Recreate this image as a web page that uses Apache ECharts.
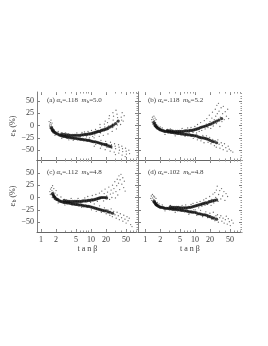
<!DOCTYPE html>
<html><head><meta charset="utf-8">
<style>html,body{margin:0;padding:0;background:#fff}#c{width:268px;height:346px}</style>
<script src="https://cdn.jsdelivr.net/npm/echarts@6/dist/echarts.min.js"></script>
</head><body><div id="c"></div>
<script>
const xTickLabels = [1, 2, 5, 10, 20, 50];
const xMinorTicks = [1,2,3,4,5,6,7,8,9,10,20,30,40,50,60,70,80];
const yTickLabels = [-50, -25, 0, 25, 50];
const yMinorTicks = [-70,-65,-60,-55,-45,-40,-35,-30,-20,-15,-10,-5,5,10,15,20,30,35,40,45,55,60,65,70,75];
const panelTags = ['(a)', '(b)', '(c)', '(d)'];
const alphaValues = ['.118', '.118', '.112', '.102'];
const massValues = ['5.0', '5.2', '4.8', '4.8'];

const aBand = [[1.6,-4],[1.65,-7],[1.7,-10],[1.75,-11],[1.8,-13],[1.9,-14],[2,-16],[2.15,-17],[2.3,-19],[2.45,-20],[2.6,-21],[2.8,-22],[3,-22],[3.2,-23],[3.4,-24],[3.7,-24],[4,-25],[4.3,-25],[4.6,-26],[5,-26],[5.4,-27],[5.8,-27],[6.2,-28],[6.7,-28],[7.2,-29],[7.8,-29],[8.4,-30],[9,-30],[9.7,-31],[10.5,-32],[11.3,-33],[12.2,-33],[13.2,-34],[14.2,-35],[15.3,-36],[16.5,-37],[18,-38],[19.5,-39],[21,-40],[23,-42],[25,-43],
 [2.6,-17],[2.9,-18],[3.2,-19],[3.5,-19],[3.8,-20],[4.2,-20],[4.6,-20],[5,-20],[5.5,-20],[6,-20],[6.5,-19],[7,-19],[7.6,-18],[8.2,-18],[8.9,-17],[9.6,-17],[10.4,-16],[11.2,-15],[12.1,-14],[13,-13],[14,-12],[15,-12],[16.2,-10],[17.5,-9],[19,-8],[20.5,-7],[22,-5],[24,-3],[26,-1],[28,1],[31,4],[35,9]];
const aCloud = [[1.45,8],[1.48,-1],[1.5,3],[1.52,-6],[1.55,6],[1.58,11],[1.6,1],[1.63,-9],[1.66,5],[1.7,-3],[1.75,-7],[1.85,-9],[1.9,-20],[2.2,-12],[2.6,-26],[3.1,-15],[3.6,-29],[4.4,-30],[5.2,-15],[6.1,-23],[6.6,-14],[7.4,-13],[8.1,-23],[8.7,-12],[9.3,-25],[10.2,-10],[10.8,-22],[11.5,-25],[11.9,-19],[12.3,-8],[12.8,-13],[14.6,-22],[15.2,-4],[15.5,-15],[15.9,-9],[15.1,2],[17.6,-20],[18.3,-11],[18.9,-3],[18.5,3],[19.2,9],[21.8,-17],[22.1,-8],[22.6,-1],[21.4,6],[22.9,14],[23.3,20],[26.5,-12],[27.2,-4],[26.8,3],[27.7,11],[28.2,19],[27.4,26],[32.2,-7],[33.5,1],[32.8,8],[34,16],[33.1,23],[31.6,31],[39,2],[41,11],[40.2,17],[42,26],[44,9],[46,20],
 [12.4,-38],[11.6,-42],[15.8,-30],[16.3,-41],[15.4,-46],[19.6,-32],[20.3,-37],[20.8,-44],[19.2,-49],[24.5,-34],[25.6,-39],[26,-46],[24.1,-52],[29.5,-37],[30.4,-42],[31,-47],[29.1,-54],[30.8,-59],[35.5,-39],[36.4,-44],[37,-50],[35.9,-56],[41.3,-42],[42.6,-47],[43,-53],[41.8,-60],[49,-46],[50.5,-52],[51,-58],[48.2,-63],[57,-50],[59,-57]];

const bBand = [[1.5,6],[1.55,3],[1.6,0],[1.65,-2],[1.7,-3],[1.75,-5],[1.85,-6],[1.95,-8],[2.05,-9],[2.2,-10],[2.35,-11],[2.5,-12],[2.7,-12],[2.9,-13],[3.1,-13],[3.35,-14],[3.6,-14],[3.9,-15],[4.2,-15],[4.5,-16],[4.9,-16],[5.3,-17],[5.7,-17],[6.2,-18],[6.7,-18],[7.2,-19],[7.8,-19],[8.4,-20],[9,-20],[9.8,-21],[10.6,-21],[11.5,-23],[12.4,-24],[13.4,-25],[14.5,-25],[15.7,-26],[17,-27],[18.4,-28],[20,-30],[22,-32],[24,-33],[27,-35],
 [2.8,-10],[3.1,-11],[3.4,-11],[3.7,-12],[4.1,-12],[4.5,-12],[4.9,-12],[5.3,-12],[5.8,-12],[6.3,-11],[6.8,-11],[7.4,-11],[8,-10],[8.7,-10],[9.4,-9],[10.2,-8],[11,-7],[11.9,-6],[12.8,-4],[13.8,-3],[15,-2],[16.2,-1],[17.5,0],[19,2],[20.5,3],[22.5,5],[24.5,7],[27,9],[30,11],[34,14]];
const bCloud = [[1.35,12],[1.38,7],[1.4,17],[1.42,3],[1.45,13],[1.47,9],[1.5,19],[1.52,-1],[1.55,10],[1.58,15],[1.62,6],[1.66,12],[1.7,2],[1.8,-1],[2,-3],[2.2,-5],[2.5,-18],[3.2,-7],[4,-21],[5.5,-6],[6.3,-22],[7.1,-5],[7.6,-15],[8.3,-4],[9.1,-14],[9.9,-2],[10.7,-15],[11.2,2],[12.1,-12],[12.9,6],[13.6,-10],[14.4,-3],[15.3,10],[15.9,-7],[16.8,3],[17.2,14],[18.1,-4],[19.3,21],[19.9,8],[20.6,-6],[21.7,15],[22.3,27],[23.1,-1],[24.2,12],[25.4,33],[25.9,19],[26.8,4],[27.3,41],[27.9,24],[28.8,10],[29.4,45],[30.2,29],[31.4,-2],[32.1,17],[33.2,36],[34.5,8],[35.6,24],[36.8,39],[38.3,12],[40.2,28],[42.4,19],[45,33],[47,14],
 [9.2,-26],[11.1,-29],[13.1,-31],[14.3,-20],[15.1,-35],[16.9,-21],[18.2,-34],[19.6,-24],[20.8,-37],[22.6,-28],[24.4,-41],[25.7,-31],[26.6,-44],[28.6,-29],[30.3,-38],[31.5,-46],[33.4,-35],[35.2,-41],[36.6,-49],[38.8,-37],[41.2,-45],[43.7,-52],[46.1,-42],[48.4,-48],[52,-51],[57,-54]];

const cBand = [[1.7,8],[1.75,5],[1.8,3],[1.85,1],[1.9,0],[2,-3],[2.1,-4],[2.2,-5],[2.35,-7],[2.5,-8],[2.7,-9],[2.9,-10],[3.1,-10],[3.35,-11],[3.6,-11],[3.9,-12],[4.2,-13],[4.5,-13],[4.9,-14],[5.3,-14],[5.7,-15],[6.2,-15],[6.7,-16],[7.2,-17],[7.8,-17],[8.4,-18],[9,-18],[9.8,-19],[10.6,-20],[11.5,-21],[12.4,-22],[13.4,-23],[14.5,-24],[15.7,-25],[17,-26],[18.4,-27],[20,-27],[22,-29],[24,-30],[27,-32],
 [2.9,-6],[3.2,-7],[3.5,-8],[3.8,-8],[4.2,-8],[4.6,-8],[5,-8],[5.4,-8],[5.9,-8],[6.4,-8],[6.9,-7],[7.5,-7],[8.1,-7],[8.8,-6],[9.5,-6],[10.3,-5],[11.1,-5],[12,-4],[13,-3],[14,-2],[15,-1],[16.2,0],[17.5,0],[19,0],[20.5,-1]];
const cCloud = [[1.5,12],[1.53,6],[1.55,17],[1.6,7],[1.62,20],[1.65,14],[1.68,0],[1.7,24],[1.75,11],[1.8,18],[1.85,-4],[1.9,9],[2,14],[2.1,5],[2.2,-11],[2.5,1],[3,-15],[4,-2],[5.5,-2],[6.5,-20],[7.5,-1],[8.6,2],[9.8,-10],[10.6,4],[11.6,-13],[12.5,6],[13.4,-8],[14.7,9],[15.6,-2],[16.4,13],[17.8,-7],[18.3,8],[19.1,17],[20.6,3],[21.4,11],[22.7,21],[23.5,-4],[24.4,7],[25.2,15],[26.1,0],[26.9,25],[27.6,9],[28.7,18],[29.9,32],[30.8,-1],[31.5,12],[32.6,24],[33.4,37],[34.3,5],[35.5,29],[36.2,44],[37.4,16],[38.1,36],[39.7,47],[41.3,27],[43.2,40],[45,20],[46.4,33],[48.1,13],
 [10.2,-25],[12.7,-28],[14.8,-17],[16.1,-30],[18.5,-21],[20.1,-33],[21.8,-25],[23.8,-36],[25.3,-23],[26.7,-39],[28.4,-28],[30.1,-35],[31.9,-42],[33.2,-30],[35.1,-37],[36.9,-45],[38.6,-33],[40.8,-41],[43.3,-48],[45.2,-36],[47.7,-44],[50.3,-52],[52.4,-39],[55.1,-47],[58.2,-42],[62,-55],[66,-59]];

const dBand = [[1.5,-8],[1.55,-10],[1.6,-12],[1.65,-14],[1.7,-15],[1.75,-16],[1.85,-18],[1.95,-19],[2.05,-20],[2.2,-20],[2.35,-21],[2.5,-22],[2.7,-22],[2.9,-22],[3.1,-23],[3.35,-23],[3.6,-24],[3.9,-24],[4.2,-24],[4.5,-25],[4.9,-25],[5.3,-26],[5.7,-26],[6.2,-27],[6.7,-27],[7.2,-28],[7.8,-29],[8.4,-29],[9,-30],[9.8,-30],[10.6,-31],[11.5,-33],[12.4,-33],[13.4,-34],[14.5,-35],[15.7,-35],[17,-36],[18.4,-38],[20,-39],[22,-41],[24,-42],[27,-44],
 [3.2,-19],[3.5,-20],[3.8,-20],[4.2,-20],[4.6,-20],[5,-21],[5.4,-21],[5.9,-21],[6.4,-21],[6.9,-21],[7.5,-20],[8.1,-20],[8.8,-19],[9.5,-18],[10.3,-17],[11.1,-16],[12,-15],[13,-14],[14,-13],[15,-12],[16.2,-11],[17.5,-11],[19,-9],[20.5,-8],[22.5,-7],[24.5,-6],[27,-5]];
const dCloud = [[1.3,-2],[1.33,3],[1.36,-6],[1.4,6],[1.42,-1],[1.45,-9],[1.48,3],[1.5,-4],[1.55,1],[1.6,-7],[1.65,-2],[1.75,-10],[1.9,-13],[2.2,-15],[2.5,-27],[3.2,-16],[4,-30],[5.5,-16],[6.5,-15],[7.5,-34],[8.3,-14],[9.1,-12],[10.1,-25],[10.9,-10],[11.8,-21],[12.6,-8],[13.7,-18],[14.9,-5],[15.8,-16],[16.6,-2],[17.7,-14],[18.9,-7],[19.6,2],[20.9,-16],[21.6,-4],[22.8,7],[23.7,-11],[24.8,10],[25.9,0],[26.7,15],[27.8,23],[28.9,-8],[29.6,6],[31.2,14],[32.7,-3],[33.9,18],[35.6,3],[37.8,12],[39.6,-6],[41.7,8],[44.8,2],
 [9.4,-25],[10.8,-36],[12.9,-26],[14.1,-39],[16.4,-29],[17.9,-41],[19.8,-32],[21.7,-44],[23.2,-30],[24.9,-47],[26.2,-37],[28.1,-35],[29.3,-50],[31.1,-41],[32.8,-37],[34.4,-48],[36.3,-42],[38.2,-52],[40.4,-45],[42.2,-38],[44.1,-54],[46.3,-43],[48.6,-49],[50.8,-57],[54,-46],[58,-52]];

const bands = [aBand, bBand, cBand, dBand];
const clouds = [aCloud, bCloud, cCloud, dCloud];

const FONT = '"Liberation Serif","DejaVu Serif",serif';
const INK = '#3a3a3a', LINE = '#808080';
const boxes = [
  {left:37, top:92, width:101, height:68, xMin:0.83, yMax:68},
  {left:138, top:92, width:104, height:68, xMin:0.72, yMax:68},
  {left:37, top:160, width:101, height:72, xMin:0.83, yMax:76},
  {left:138, top:160, width:104, height:72, xMin:0.72, yMax:76}
];
const grid = [], xAxis = [], yAxis = [], series = [], title = [];
boxes.forEach((b, i) => {
  grid.push({left:b.left, top:b.top, width:b.width, height:b.height});
  const isLow = i >= 2, isLeft = i % 2 === 0;
  const xBase = {type:'log', logBase:10, min:b.xMin, max:87, gridIndex:i, splitLine:{show:false}, axisLine:{show:false, onZero:false}, axisLabel:{show:false}, axisTick:{show:false}};
  const xMainIndex = xAxis.length;
  xAxis.push({...xBase, position:'bottom',
    name: isLow ? 't a n β' : '', nameLocation:'middle', nameGap:13,
    nameTextStyle:{fontFamily:FONT, fontSize:8, color:INK},
    axisLine:{show:true, onZero:false, lineStyle:{color:'#666', width:1}},
    axisTick:{show:true, inside:true, length:3, customValues:xTickLabels, lineStyle:{color:LINE}},
    axisLabel:{show:isLow, customValues:xTickLabels, margin:4, fontFamily:FONT, fontSize:8, color:INK, hideOverlap:false, formatter:v=>String(Math.round(v))}});
  xAxis.push({...xBase, position:'bottom', axisTick:{show:true, inside:true, length:1.5, customValues:xMinorTicks, lineStyle:{color:'#999'}}});
  xAxis.push({...xBase, position:'top', axisLine:{show:isLow, onZero:false, lineStyle:{color:'#666'}}, axisTick:{show:true, inside:true, length:3, customValues:xTickLabels, lineStyle:{color:LINE}}});
  xAxis.push({...xBase, position:'top', axisTick:{show:true, inside:true, length:1.5, customValues:xMinorTicks, lineStyle:{color:'#999'}}});
  const yBase = {type:'value', min:-70, max:b.yMax, gridIndex:i, splitLine:{show:false}, axisLine:{show:false, onZero:false}, axisLabel:{show:false}, axisTick:{show:false}};
  const yMainIndex = yAxis.length;
  yAxis.push({...yBase, position:'left',
    name: isLeft ? '{e|ε}{s|b} (%)' : '', nameLocation:'middle', nameRotate:90, nameGap:16,
    nameTextStyle:{fontFamily:FONT, fontSize:8, color:INK, rich:{e:{fontFamily:FONT, fontSize:9, color:INK}, s:{fontFamily:FONT, fontSize:6, color:INK, verticalAlign:'bottom'}}},
    axisLine:{show:true, onZero:false, lineStyle:{color:LINE, width:1}},
    axisTick:{show:true, inside:true, length:3, customValues:yTickLabels, lineStyle:{color:LINE}},
    axisLabel:{show:isLeft, customValues:yTickLabels, margin:3, fontFamily:FONT, fontSize:8, color:INK, hideOverlap:false, formatter:v=>v<0?'\u2212'+(-v):String(v)}});
  yAxis.push({...yBase, position:'right', axisLine:{show:isLeft, onZero:false, lineStyle:{color:'#aaa', width:1}}, axisTick:{show:true, inside:true, length:3, customValues:yTickLabels, lineStyle:{color:LINE}}});
  yAxis.push({...yBase, position:'right', axisTick:{show:true, inside:true, length:1.5, customValues:yMinorTicks, lineStyle:{color:'#999'}}});
  series.push({type:'scatter', xAxisIndex:xMainIndex, yAxisIndex:yMainIndex, data:clouds[i], symbolSize:1.3, silent:true, animation:false, itemStyle:{color:'#444'}});
  series.push({type:'scatter', xAxisIndex:xMainIndex, yAxisIndex:yMainIndex, data:bands[i], symbolSize:3.2, silent:true, animation:false, itemStyle:{color:'#111'}});
  title.push({left:b.left + 10, top:b.top + (isLow ? 9 : 5), padding:0,
    text: panelTags[i] + ' {i|α}{s|s}=' + alphaValues[i] + '  {i|m}{s|b}=' + massValues[i],
    textStyle:{fontFamily:FONT, fontSize:7, fontWeight:'normal', color:INK,
      rich:{i:{fontFamily:FONT, fontStyle:'italic', fontSize:7, color:INK}, s:{fontFamily:FONT, fontSize:5, color:INK, verticalAlign:'bottom'}}}});
});
const chart = echarts.init(document.getElementById('c'), null, {renderer:'canvas'});
chart.setOption({backgroundColor:'#fff', animation:false, title, grid, xAxis, yAxis, series});
</script></body></html>
